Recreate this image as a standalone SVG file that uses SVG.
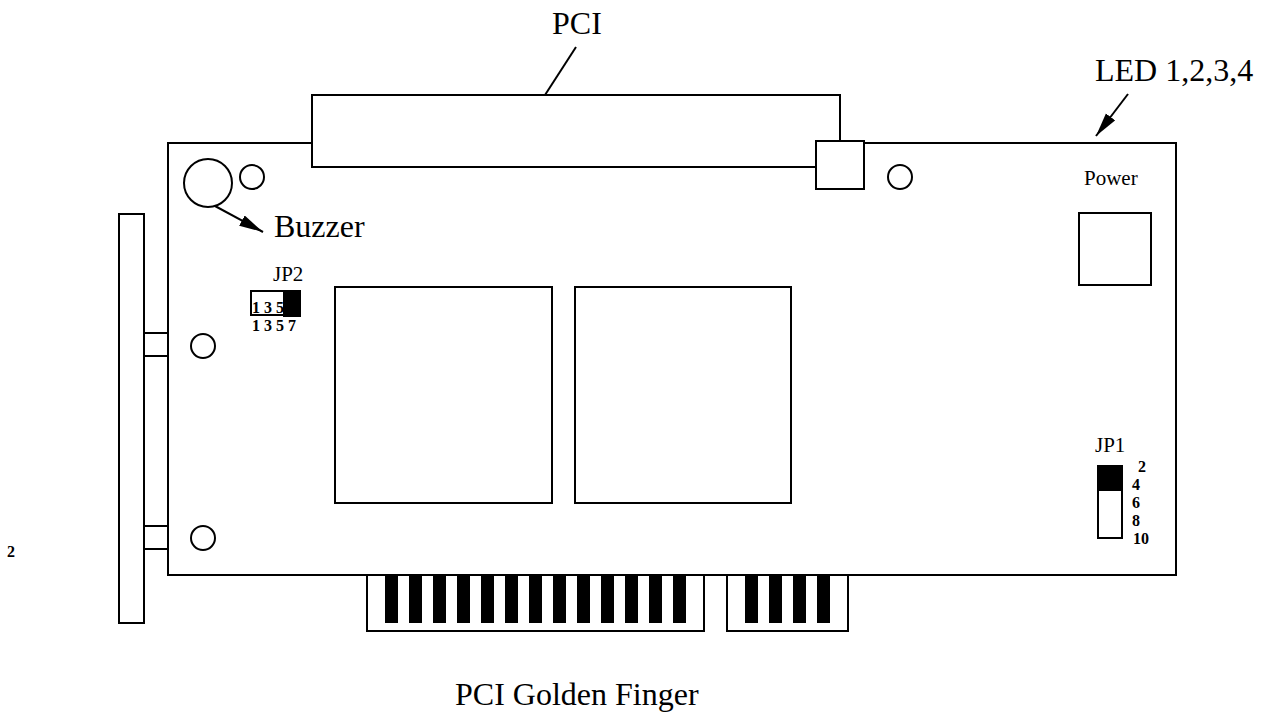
<svg xmlns="http://www.w3.org/2000/svg" width="1263" height="714" viewBox="0 0 1263 714">
<style>
.l{fill:none;stroke:#000;stroke-width:2}
.w{fill:#fff;stroke:#000;stroke-width:2}
.t{fill:#000;font-family:"Liberation Serif","Times New Roman",serif}
.big{font-size:32px}
.sm{font-size:21px}
.b{fill:#000;font-family:"Liberation Serif","Times New Roman",serif;font-weight:bold;font-size:16px}
.k{fill:#000}
</style>
<defs><marker id="a" markerUnits="userSpaceOnUse" markerWidth="30" markerHeight="16" refX="24" refY="6" orient="auto"><path d="M0 0.2L24 6L0 11.8Z" fill="#000"/></marker></defs>
<rect width="1263" height="714" fill="#fff"/>
<g id="bracket"><rect class="l" x="119" y="214" width="25" height="409"/></g>
<g id="tab1"><rect class="l" x="144" y="333" width="24" height="23"/></g>
<g id="tab2"><rect class="l" x="144" y="526" width="24" height="23"/></g>
<g id="golden-finger">
<rect class="l" x="367" y="575" width="337" height="56"/>
<rect class="l" x="727" y="575" width="121" height="56"/>
<path class="k" d="M385 575h13v48h-13zM409 575h13v48h-13zM433 575h13v48h-13zM457 575h13v48h-13zM481 575h13v48h-13zM505 575h13v48h-13zM529 575h13v48h-13zM553 575h13v48h-13zM577 575h13v48h-13zM601 575h13v48h-13zM625 575h13v48h-13zM649 575h13v48h-13zM673 575h13v48h-13zM745 575h13v48h-13zM769 575h13v48h-13zM793 575h13v48h-13zM817 575h13v48h-13z"/>
</g>
<g id="board"><rect class="l" x="168" y="143" width="1008" height="432"/></g>
<g id="pci-slot"><rect class="w" x="312" y="95" width="528" height="72"/></g>
<g id="led-box"><rect class="w" x="816" y="141" width="48" height="48"/></g>
<g id="buzzer"><circle class="l" cx="208" cy="183" r="24"/></g>
<g id="holes">
<circle class="l" cx="252" cy="177" r="12"/>
<circle class="l" cx="900" cy="177" r="12"/>
<circle class="l" cx="203" cy="346" r="12"/>
<circle class="l" cx="203" cy="538" r="12"/>
</g>
<g id="chip1"><rect class="l" x="335" y="287" width="217" height="216"/></g>
<g id="chip2"><rect class="l" x="575" y="287" width="216" height="216"/></g>
<g id="power"><rect class="l" x="1079" y="213" width="72" height="72"/><text class="t sm" x="1084" y="185">Power</text></g>
<g id="jp2">
<text class="t sm" x="273" y="281">JP2</text>
<rect class="l" x="251" y="291" width="48" height="24"/>
<rect class="k" x="283" y="290" width="18" height="27"/>
<text class="b" x="252" y="313" xml:space="preserve">1 3 5</text>
<text class="b" x="252" y="331" xml:space="preserve">1 3 5 7</text>
</g>
<g id="jp1">
<text class="t sm" x="1095" y="452">JP1</text>
<rect class="l" x="1098" y="466" width="24" height="72"/>
<rect class="k" x="1097" y="465" width="26" height="26"/>
<text class="b" x="1138" y="472">2</text>
<text class="b" x="1132" y="490">4</text>
<text class="b" x="1132" y="508">6</text>
<text class="b" x="1132" y="526">8</text>
<text class="b" x="1133" y="544">10</text>
</g>
<g id="connectors">
<path class="l" d="M545 95L576 47"/>
<path class="l" d="M215 206L263 232" marker-end="url(#a)"/>
<path class="l" d="M1128 94L1096 136" marker-end="url(#a)"/>
</g>
<g id="labels">
<text class="t big" x="552" y="34">PCI</text>
<text class="t big" x="1095" y="81">LED 1,2,3,4</text>
<text class="t big" x="274" y="237">Buzzer</text>
<text class="t big" x="455" y="705">PCI Golden Finger</text>
<text class="b" x="7" y="557">2</text>
</g>
</svg>
